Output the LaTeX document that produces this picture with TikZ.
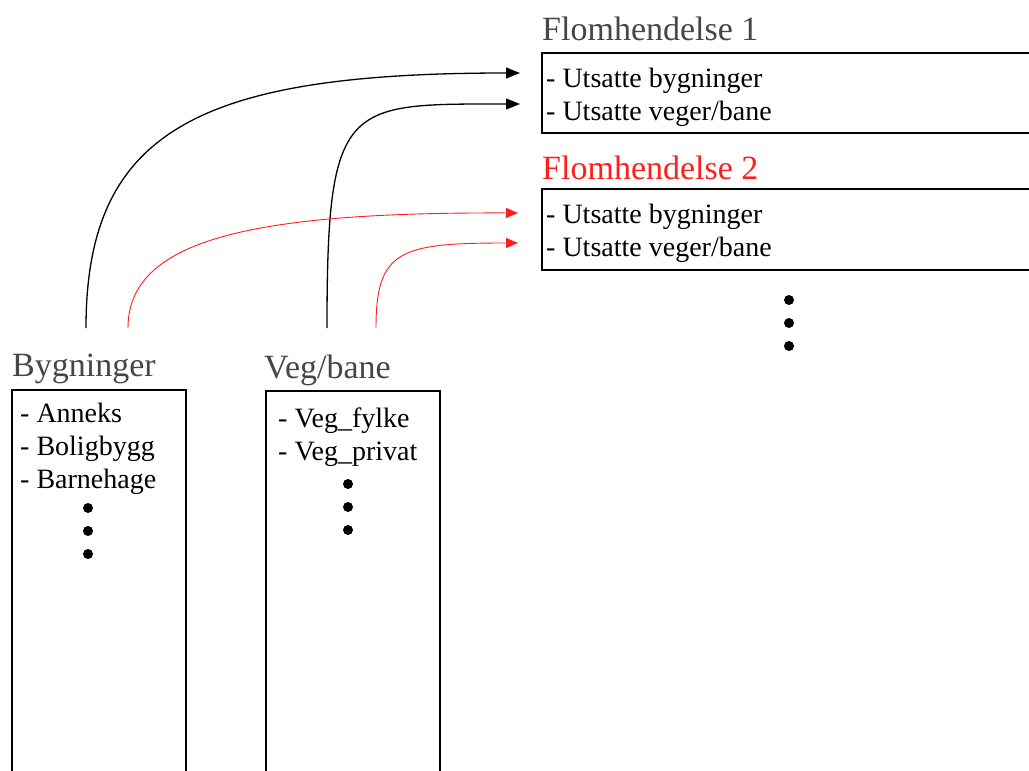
\documentclass[tikz,border=0pt]{standalone}
\usepackage{fontspec}
\setmainfont{Liberation Serif}
\usetikzlibrary{arrows.meta}
\definecolor{tgray}{RGB}{70,70,70}
\definecolor{fred}{RGB}{255,30,30}
\begin{document}
\begin{tikzpicture}[x=1pt,y=-1pt,
  box/.style={line width=1.6pt, draw=black},
  item/.style={anchor=base west, inner sep=0pt, font=\fontsize{28}{33}\selectfont},
  ttl/.style={anchor=base west, inner sep=0pt, font=\fontsize{34}{40}\selectfont, text=tgray},
  dotn/.style={circle, fill=black, inner sep=0pt, minimum size=10pt},
  blk/.style={line width=1.3pt, draw=black, -{Triangle[length=14pt,width=11pt]}},
  rd/.style={line width=0.9pt, draw=fred, -{Triangle[length=12pt,width=10pt]}}]
\useasboundingbox (0,0) rectangle (1029,771);

% top-right boxes (open to the right edge)
\draw[box] (1029,53) -- (542,53) -- (542,133) -- (1029,133);
\draw[box] (1029,189) -- (542,189) -- (542,270) -- (1029,270);
% lower boxes (open to the bottom edge)
\draw[box] (12,771) -- (12,390) -- (186,390) -- (186,771);
\draw[box] (266,771) -- (266,391) -- (440,391) -- (440,771);

% titles
\node[ttl] (t1) at (542,40) {Flomhendelse 1};
\node[ttl, text=fred] (t2) at (542,179) {Flomhendelse 2};
\node[ttl] (tb) at (12,376) {Bygninger};
\node[ttl] (tv) at (264,378) {Veg/bane};

% box texts
\node[item] (f1a) at (546,87) {- Utsatte bygninger};
\node[item] (f1b) at (546,120) {- Utsatte veger/bane};
\node[item] (f2a) at (546,223) {- Utsatte bygninger};
\node[item] (f2b) at (546,256) {- Utsatte veger/bane};
\node[item] (b1) at (20,422) {- Anneks};
\node[item] (b2) at (20,455) {- Boligbygg};
\node[item] (b3) at (20,488) {- Barnehage};
\node[item] (v1) at (278,427) {- Veg\_fylke};
\node[item] (v2) at (278,460) {- Veg\_privat};

% dots
\node[dotn] (fd1) at (789,300) {};
\node[dotn] (fd2) at (789,323) {};
\node[dotn] (fd3) at (789,346) {};
\node[dotn] (bd1) at (88,508) {};
\node[dotn] (bd2) at (88,531) {};
\node[dotn] (bd3) at (88,554) {};
\node[dotn] (vd1) at (348,484) {};
\node[dotn] (vd2) at (348,507) {};
\node[dotn] (vd3) at (348,530) {};

% connector ends
\coordinate (sb1) at (86,328);
\coordinate (sb2) at (128,328);
\coordinate (sv1) at (327,328);
\coordinate (sv2) at (376,328);
\coordinate (e11) at (520,73);
\coordinate (e12) at (520,104);
\coordinate (e21) at (518,213);
\coordinate (e22) at (518,243);

\draw[blk] (sb1) .. controls (86,130) and (200,73) .. (e11);
\draw[blk] (sv1) .. controls (327,100) and (345,104) .. (e12);
\draw[rd] (sb2) .. controls (128,240) and (250,212) .. (e21);
\draw[rd] (sv2) .. controls (376,250) and (400,243) .. (e22);
\end{tikzpicture}
\end{document}
